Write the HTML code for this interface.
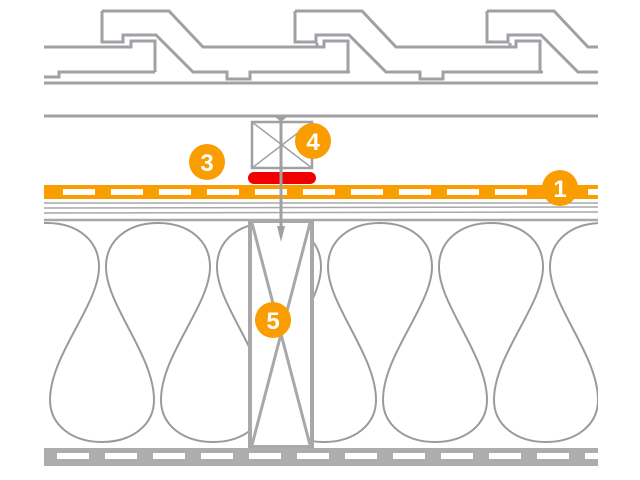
<!DOCTYPE html>
<html><head><meta charset="utf-8"><style>
html,body{margin:0;padding:0;background:#fff;width:640px;height:480px;overflow:hidden}
svg{display:block}
text{font-family:"Liberation Sans",sans-serif;font-weight:bold;fill:#fff}
</style></head><body>
<svg width="640" height="480" viewBox="0 0 640 480" xmlns="http://www.w3.org/2000/svg">
<defs>
<clipPath id="ins"><rect x="44" y="218" width="554" height="230"/></clipPath>
<clipPath id="roof"><rect x="44" y="0" width="554" height="90"/></clipPath>
</defs>
<!-- roof tiles -->
<g clip-path="url(#roof)" fill="none" stroke="#a0a0a5" stroke-width="3">
<g id="t1">
<path d="M102 11 H169 L203 47 H317 V43"/>
<path d="M102 11 V42 H123 V35 H156 L193 72 H227 V79 H250 V72 H350"/>
<path d="M44 47 H131 V41 H155 V72"/>
</g>
<use href="#t1" x="193"/>
<use href="#t1" x="385"/>
<path d="M155 72 H59 V77 H44"/>
</g>
<line x1="44" y1="83" x2="598" y2="83" stroke="#a0a0a5" stroke-width="3"/>
<line x1="44" y1="116" x2="598" y2="116" stroke="#a0a0a5" stroke-width="3"/>
<!-- batten -->
<rect x="252" y="122" width="60" height="46" fill="#fff" stroke="#a0a0a5" stroke-width="2.5"/>
<path d="M252 122 L312 168 M312 122 L252 168" stroke="#a0a0a5" stroke-width="1.5"/>
<!-- membrane lines below -->
<g stroke="#a8a8a8" stroke-width="1.5">
<line x1="44" y1="203" x2="598" y2="203"/>
<line x1="44" y1="208" x2="598" y2="207"/>
<line x1="44" y1="213" x2="598" y2="212"/>
<line x1="44" y1="220" x2="598" y2="220" stroke-width="2.5"/>
</g>
<!-- orange membrane -->
<rect x="44" y="185" width="554" height="14" fill="#f99d00"/>
<g fill="#fff">
<rect x="63" y="189" width="32" height="6"/><rect x="111" y="189" width="32" height="6"/><rect x="159" y="189" width="32" height="6"/><rect x="207" y="189" width="32" height="6"/><rect x="255" y="189" width="32" height="6"/><rect x="303" y="189" width="32" height="6"/><rect x="351" y="189" width="32" height="6"/><rect x="399" y="189" width="32" height="6"/><rect x="447" y="189" width="32" height="6"/><rect x="495" y="189" width="32" height="6"/><rect x="543" y="189" width="32" height="6"/><rect x="588" y="189" width="10" height="6"/>
</g>
<!-- red tape -->
<rect x="248" y="172" width="68" height="12" rx="6" fill="#f00000"/>
<!-- insulation -->
<g clip-path="url(#ins)" fill="none" stroke="#9a9a9a" stroke-width="2">
<path id="w" d="M-5 267 C-5 240 17 223 47 223 C77 223 99 240 99 267 C99 305 50 355 50 400 C50 425 72 442 102 442 C132 442 154 425 154 400 C154 355 106 305 106 267"/>
<use href="#w" x="111"/><use href="#w" x="222"/><use href="#w" x="333"/><use href="#w" x="444"/><use href="#w" x="555"/>
</g>
<!-- stud -->
<rect x="250" y="221" width="62" height="226" fill="#fff" stroke="#a8a8a8" stroke-width="4"/>
<path d="M252 223 L310 445 M310 223 L252 445" stroke="#a8a8a8" stroke-width="3"/>
<!-- screw -->
<line x1="281" y1="116" x2="281" y2="232" stroke="#a0a0a0" stroke-width="3"/>
<path d="M274 116 H288 L281 122 Z" fill="#a0a0a0"/>
<path d="M277 226 L285 226 L281 242 Z" fill="#a0a0a0"/>
<!-- bottom board -->
<rect x="44" y="448" width="554" height="18" fill="#adadad"/>
<g fill="#fff">
<rect x="57" y="453" width="32" height="6"/><rect x="105" y="453" width="32" height="6"/><rect x="153" y="453" width="32" height="6"/><rect x="201" y="453" width="32" height="6"/><rect x="249" y="453" width="32" height="6"/><rect x="297" y="453" width="32" height="6"/><rect x="345" y="453" width="32" height="6"/><rect x="393" y="453" width="32" height="6"/><rect x="441" y="453" width="32" height="6"/><rect x="489" y="453" width="32" height="6"/><rect x="537" y="453" width="32" height="6"/><rect x="585" y="453" width="13" height="6"/>
</g>
<!-- labels -->
<g fill="#f99d00">
<circle cx="207" cy="162" r="18"/><circle cx="313" cy="141" r="18"/><circle cx="560" cy="188" r="18"/><circle cx="273" cy="320" r="18"/>
</g>
<g font-size="24" text-anchor="middle">
<text x="207" y="171">3</text><text x="313" y="150">4</text><text x="560" y="197">1</text><text x="273" y="329">5</text>
</g>
</svg>
</body></html>
